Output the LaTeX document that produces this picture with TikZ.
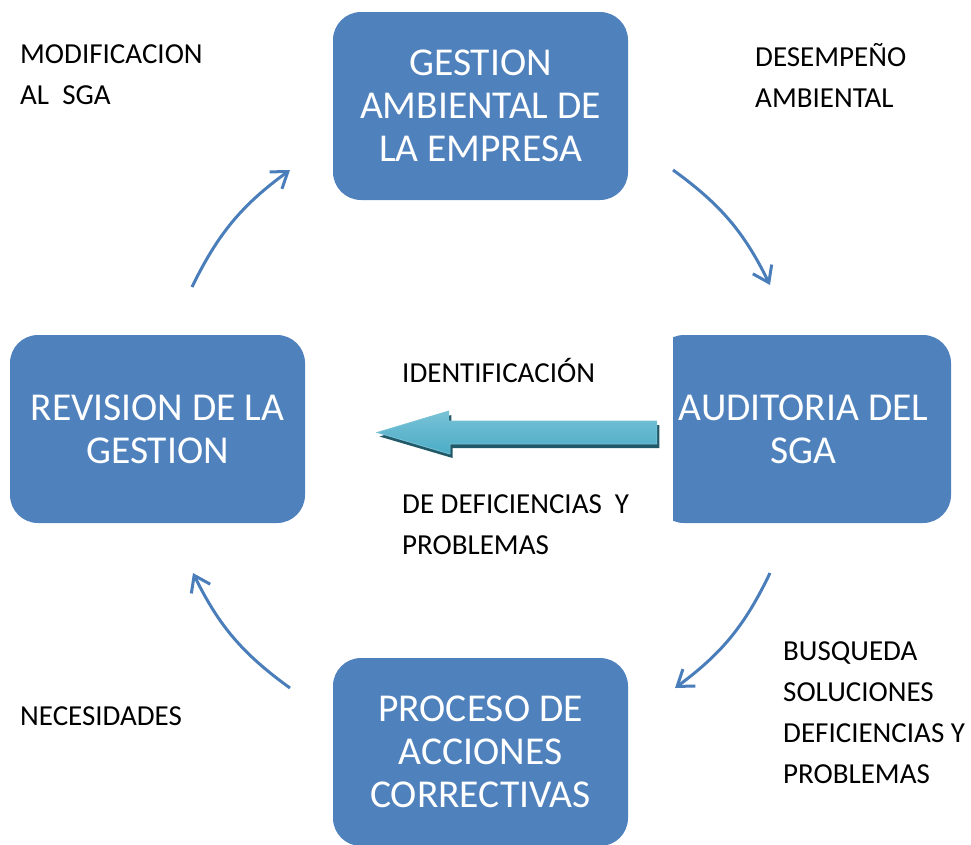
\documentclass[tikz,border=0pt]{standalone}
\usepackage{fontspec}
\setmainfont{Carlito}
\usetikzlibrary{arrows.meta,shadows}

\definecolor{boxblue}{HTML}{4F81BD}
\definecolor{arcblue}{HTML}{4A7EBB}
\definecolor{arrowmid}{HTML}{4BACC6}
\definecolor{arrowlight}{HTML}{78C2D6}
\definecolor{arrowdark}{HTML}{215968}

\begin{document}
\begin{tikzpicture}[x=1pt,y=1pt,>={Straight Barb[length=15pt,width=21pt]},node distance=323pt,
  box/.style={rectangle,rounded corners=28pt,fill=boxblue,text=white,minimum width=295pt,
    minimum height=188pt,align=center,font=\fontsize{39.5}{43}\selectfont},
  note/.style={anchor=west,align=left,inner sep=0pt,font=\fontsize{29}{41}\selectfont},
  flow/.style={->,arcblue,line width=3pt,bend left=14}]
  \useasboundingbox (0,0) rectangle (971,-844);

  \coordinate (hub) at (480.5,-429);
  \node[box] (gest) [above of=hub] {GESTION\\AMBIENTAL DE\\LA EMPRESA};
  \node[box] (rev)  [left of=hub]  {REVISION DE LA\\GESTION};
  \node[box] (aud)  [right of=hub] {AUDITORIA DEL\\SGA};
  \node[box] (proc) [below of=hub] {PROCESO DE\\ACCIONES\\CORRECTIVAS};
  \fill[white] (aud.north west) rectangle ([xshift=17pt]aud.south west);

  \node[note] (mod) at (20,-75)   {MODIFICACION\\AL\ \ SGA};
  \node[note] (des) at (755,-75)  {DESEMPEÑO\\AMBIENTAL};
  \node[note] (ide) at (402,-370) {IDENTIFICACIÓN};
  \node[note] (def) at (402,-525) {DE DEFICIENCIAS\ \ Y\\PROBLEMAS};
  \node[note] (bus) at (783,-713) {BUSQUEDA\\SOLUCIONES\\DEFICIENCIAS Y\\PROBLEMAS};
  \node[note] (nec) at (20,-716)  {NECESIDADES};

  \coordinate (a1) at (192,-287); \coordinate (a2) at (290,-170);
  \coordinate (b1) at (673,-170); \coordinate (b2) at (770,-285);
  \coordinate (c1) at (770,-573); \coordinate (c2) at (675,-688);
  \coordinate (d1) at (290,-688); \coordinate (d2) at (193,-573);
  \draw[flow] (a1) to (a2);
  \draw[flow] (b1) to (b2);
  \draw[flow] (c1) to (c2);
  \draw[flow] (d1) to (d2);

  \coordinate (tip) at (377,-432.5);
  \path[drop shadow={shadow xshift=2.5pt,shadow yshift=-4pt,fill=arrowdark,opacity=1},
    top color=arrowlight,bottom color=arrowmid,draw=arrowlight,line width=0.8pt]
    (tip) -- ++(73,-21.5) -- ++(0,10) -- ([shift={(1,-15)}]aud.west)
    -- ([shift={(1,8)}]aud.west) -- ++(-208,0) -- ++(0,10) -- cycle;
\end{tikzpicture}
\end{document}
